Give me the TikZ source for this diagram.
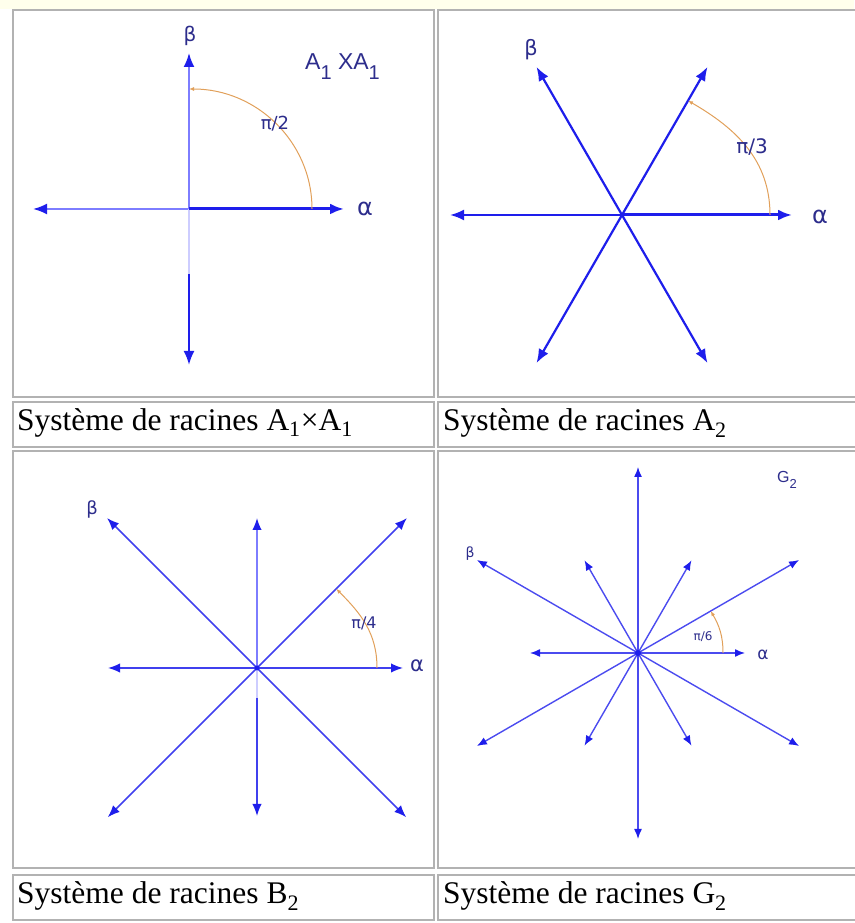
\documentclass[tikz,border=0pt]{standalone}
\usepackage{fontspec}
\setmainfont{Liberation Serif}
\newfontfamily\lblfont{Liberation Sans}
\newfontfamily\greekfont{DejaVu Sans}
\usetikzlibrary{arrows.meta}
\definecolor{rootblue}{RGB}{30,30,235}
\definecolor{paleblue}{RGB}{125,125,255}
\definecolor{faintblue}{RGB}{205,205,255}
\definecolor{arcorange}{RGB}{225,160,90}
\definecolor{lblblue}{RGB}{45,45,140}
\definecolor{tablegray}{RGB}{178,178,178}
\definecolor{topyellow}{RGB}{255,255,236}
\tikzset{
  cellbox/.style={draw=tablegray, line width=2pt},
  captext/.style={anchor=base west, inner sep=0pt, font=\fontsize{31.5}{36}\selectfont},
  rootarrow/.style={draw=rootblue, line width=2.2pt, -{Latex[length=14pt,width=11pt,color=rootblue]}},
  palearrow/.style={draw=paleblue, line width=2pt, -{Latex[length=14pt,width=11pt,color=rootblue]}},
  thinarrow/.style={draw=rootblue!85, line width=1.6pt, -{Latex[length=12pt,width=9.5pt,color=rootblue]}},
  smallarrow/.style={draw=rootblue!80, line width=1.4pt, -{Latex[length=10pt,width=8pt,color=rootblue]}},
  angarc/.style={draw=arcorange, line width=1pt, -{Latex[length=5pt,width=4pt]}},
  rootlbl/.style={text=lblblue, inner sep=0pt}
}

\begin{document}
\begin{tikzpicture}[x=1pt,y=1pt]
  \useasboundingbox (0,0) rectangle (854,923);
  \fill[topyellow] (0,914) rectangle (854,923);
  % table cells
  \draw[cellbox] (13,913) rectangle (434,526);
  \draw[cellbox] (438,913) rectangle (862,526);
  \draw[cellbox] (13,521) rectangle (434,476);
  \draw[cellbox] (438,521) rectangle (862,476);
  \draw[cellbox] (13,472) rectangle (434,55);
  \draw[cellbox] (438,472) rectangle (862,55);
  \draw[cellbox] (13,48) rectangle (434,3);
  \draw[cellbox] (438,48) rectangle (862,3);
  \node[captext] (capa) at (17,492) {Système de racines A\textsubscript{1}×A\textsubscript{1}};
  \node[captext] (capb) at (443,492) {Système de racines A\textsubscript{2}};
  \node[captext] (capc) at (17,19) {Système de racines B\textsubscript{2}};
  \node[captext] (capd) at (443,19) {Système de racines G\textsubscript{2}};

  % A1 x A1
  \begin{scope}[shift={(189,714)}]
    \coordinate (o1) at (0,0);
    \coordinate (a1) at (0:155);
    \coordinate (a1m) at (180:156);
    \coordinate (b1) at (90:156);
    \coordinate (b1m) at (270:156);
    \coordinate (g1) at (270:65);
    \coordinate (p1) at (0:123);
    \coordinate (q1) at (90:120);
    \draw[palearrow] (o1) -- (a1m);
    \draw[palearrow] (o1) -- (b1);
    \draw[faintblue, line width=2pt] (o1) -- (g1);
    \draw[rootarrow] (g1) -- (b1m);
    \draw[rootarrow, line width=3pt] (o1) -- (a1);
    \draw[angarc] (p1) to[out=90,in=0] (q1);
    \node[rootlbl, font=\greekfont\fontsize{20}{24}\selectfont] (lb1) at (1,173) {β};
    \node[rootlbl, font=\greekfont\fontsize{24}{28}\selectfont] (la1) at (176,0) {α};
    \node[rootlbl, font=\greekfont\fontsize{18}{20}\selectfont] (ang1) at (86,85) {π/2};
    \node[rootlbl, anchor=base west, font=\lblfont\fontsize{23}{24}\selectfont] (nm1) at (116,139)
      {A\raisebox{-10pt}{\fontsize{20}{20}\selectfont 1} XA\raisebox{-10pt}{\fontsize{20}{20}\selectfont 1}};
  \end{scope}

  % A2
  \begin{scope}[shift={(622,708)}]
    \coordinate (o2) at (0,0);
    \coordinate (r20) at (0:170);
    \coordinate (r260) at (60:171);
    \coordinate (r2120) at (120:171);
    \coordinate (r2180) at (180:172);
    \coordinate (r2240) at (240:171);
    \coordinate (r2300) at (300:171);
    \coordinate (p2) at (0:148);
    \coordinate (q2) at (60:132);
    \draw[rootarrow] (o2) -- (r260);
    \draw[rootarrow] (o2) -- (r2120);
    \draw[rootarrow] (o2) -- (r2180);
    \draw[rootarrow] (o2) -- (r2240);
    \draw[rootarrow] (o2) -- (r2300);
    \draw[rootarrow, line width=3pt] (o2) -- (r20);
    \draw[angarc] (p2) to[out=90,in=-30] (q2);
    \node[rootlbl, font=\greekfont\fontsize{21}{24}\selectfont] (lb2) at (-91,165) {β};
    \node[rootlbl, font=\greekfont\fontsize{24}{28}\selectfont] (la2) at (198,-2) {α};
    \node[rootlbl, font=\greekfont\fontsize{20}{22}\selectfont] (ang2) at (130,68) {π/3};
  \end{scope}

  % B2
  \begin{scope}[shift={(257,255)}]
    \coordinate (o3) at (0,0);
    \coordinate (r30) at (0:146);
    \coordinate (r390) at (90:150);
    \coordinate (r3180) at (180:149);
    \coordinate (r3270) at (270:148);
    \coordinate (g3) at (270:30);
    \coordinate (r345) at (45:212);
    \coordinate (r3135) at (135:212);
    \coordinate (r3225) at (225:211);
    \coordinate (r3315) at (315:211);
    \coordinate (p3) at (0:120);
    \coordinate (q3) at (45:112);
    \draw[thinarrow] (o3) -- (r345);
    \draw[thinarrow] (o3) -- (r3135);
    \draw[thinarrow] (o3) -- (r3225);
    \draw[thinarrow] (o3) -- (r3315);
    \draw[thinarrow, draw=paleblue] (o3) -- (r390);
    \draw[faintblue, line width=1.6pt] (o3) -- (g3);
    \draw[thinarrow] (g3) -- (r3270);
    \draw[thinarrow] (o3) -- (r3180);
    \draw[thinarrow] (o3) -- (r30);
    \fill[rootblue] (o3) circle (2.5);
    \draw[angarc] (p3) to[out=90,in=-45] (q3);
    \node[rootlbl, font=\greekfont\fontsize{18}{22}\selectfont] (lb3) at (-165,159) {β};
    \node[rootlbl, font=\greekfont\fontsize{21}{24}\selectfont] (la3) at (160,2) {α};
    \node[rootlbl, font=\greekfont\fontsize{16}{18}\selectfont] (ang3) at (107,45) {π/4};
  \end{scope}

  % G2
  \begin{scope}[shift={(638,270)}]
    \coordinate (o4) at (0,0);
    \coordinate (s40) at (0:107);
    \coordinate (s460) at (60:107);
    \coordinate (s4120) at (120:107);
    \coordinate (s4180) at (180:108);
    \coordinate (s4240) at (240:107);
    \coordinate (s4300) at (300:107);
    \coordinate (l430) at (30:186);
    \coordinate (l490) at (90:186);
    \coordinate (l4150) at (150:186);
    \coordinate (l4210) at (210:186);
    \coordinate (l4270) at (270:186);
    \coordinate (l4330) at (330:186);
    \coordinate (p4) at (0:85);
    \coordinate (q4) at (30:84);
    \draw[smallarrow] (o4) -- (l430);
    \draw[smallarrow] (o4) -- (l490);
    \draw[smallarrow] (o4) -- (l4150);
    \draw[smallarrow] (o4) -- (l4210);
    \draw[smallarrow] (o4) -- (l4270);
    \draw[smallarrow] (o4) -- (l4330);
    \draw[smallarrow] (o4) -- (s460);
    \draw[smallarrow] (o4) -- (s4120);
    \draw[smallarrow] (o4) -- (s4180);
    \draw[smallarrow] (o4) -- (s4240);
    \draw[smallarrow] (o4) -- (s4300);
    \draw[smallarrow] (o4) -- (s40);
    \fill[rootblue] (o4) circle (3);
    \draw[angarc] (p4) to[out=90,in=-60] (q4);
    \node[rootlbl, font=\greekfont\fontsize{14}{18}\selectfont] (lb4) at (-168,99) {β};
    \node[rootlbl, font=\greekfont\fontsize{17}{20}\selectfont] (la4) at (125,-2) {α};
    \node[rootlbl, font=\greekfont\fontsize{12}{14}\selectfont] (ang4) at (65,16) {π/6};
    \node[rootlbl, anchor=base west, font=\lblfont\fontsize{16}{16}\selectfont] (nm4) at (139,170)
      {G\raisebox{-6pt}{\fontsize{13}{13}\selectfont 2}};
  \end{scope}
\end{tikzpicture}
\end{document}
